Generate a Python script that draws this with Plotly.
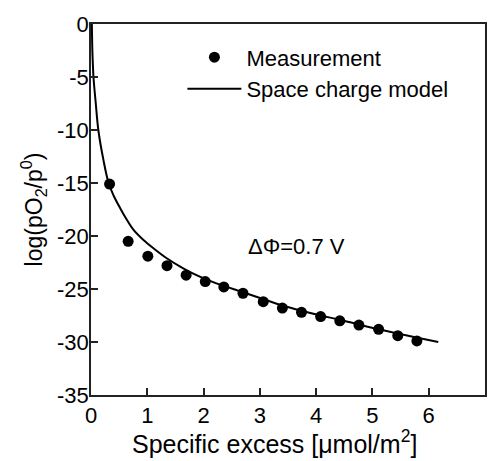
import plotly.graph_objects as go

meas_x = [0.33, 0.66, 1.01, 1.35, 1.69, 2.03, 2.36, 2.70, 3.06, 3.40, 3.74, 4.08, 4.42, 4.76, 5.11, 5.45, 5.79]
meas_y = [-15.1, -20.5, -21.9, -22.8, -23.7, -24.3, -24.8, -25.4, -26.2, -26.8, -27.2, -27.6, -28.0, -28.4, -28.8, -29.4, -29.9]

# Space charge model curve
model_x = [0.015, 0.026, 0.044, 0.085, 0.13, 0.22, 0.314, 0.403, 0.521, 0.639, 0.756, 0.932, 1.109, 1.345,
           1.638, 1.933, 2.228, 2.70, 3.06, 3.40, 3.74, 4.08, 4.42, 4.76, 5.11, 5.45, 5.80, 6.17]
model_y = [0.0, -2.8, -5.0, -7.5, -10.0, -12.8, -15.03, -16.2, -17.4, -18.49, -19.43, -20.38, -21.16, -22.1,
           -23.05, -23.84, -24.47, -25.3, -25.95, -26.55, -27.05, -27.5, -27.9, -28.35, -28.8, -29.2, -29.6, -30.0]

x_ticks = [0, 1, 2, 3, 4, 5, 6, 7]
y_ticks = [0, -5, -10, -15, -20, -25, -30, -35]

FONT = "Liberation Sans, Arial, sans-serif"

fig = go.Figure()
fig.add_trace(go.Scatter(x=meas_x, y=meas_y, mode="markers", name="Measurement",
                         marker=dict(color="black", size=11)))
fig.add_trace(go.Scatter(x=model_x, y=model_y, mode="lines", name="Space charge model",
                         line=dict(color="black", width=2, shape="spline", smoothing=1.0)))

axis_common = dict(showline=True, linecolor="#222", linewidth=1.5, mirror=True,
                   ticks="inside", ticklen=7, tickwidth=1.5, tickcolor="#222",
                   showgrid=False, zeroline=False,
                   tickfont=dict(family=FONT, size=22, color="black"))

fig.update_xaxes(range=[0, 7], tickvals=x_ticks, ticktext=[str(v) for v in x_ticks], **axis_common)
fig.update_yaxes(range=[-35, 0], tickvals=y_ticks, ticktext=[str(v) for v in y_ticks],
                 ticklabelstandoff=-4,
                 title=dict(text="log(pO<sub>2</sub>/p<sup>0</sup>)", font=dict(family=FONT, size=23, color="black"), standoff=8),
                 **axis_common)

# x-axis title (slightly left of centre in the reference)
fig.add_annotation(x=0.0985, y=-0.128, xref="paper", yref="paper",
                   text="Specific excess [μmol/m<sup>2</sup>]", showarrow=False,
                   xanchor="left", yanchor="middle", font=dict(family=FONT, size=25, color="black"))

fig.add_annotation(x=0.393, y=0.40, xref="paper", yref="paper", text="ΔΦ=0.7 V", showarrow=False,
                   xanchor="left", yanchor="middle", font=dict(family=FONT, size=22, color="black"))

fig.update_layout(
    width=491, height=461,
    margin=dict(l=91, r=4, t=24, b=66),
    paper_bgcolor="white", plot_bgcolor="white",
    font=dict(family=FONT, size=22, color="black"),
    showlegend=True,
    legend=dict(x=0.232, y=0.9665, xanchor="left", yanchor="top", bgcolor="rgba(0,0,0,0)",
                font=dict(family=FONT, size=22, color="black"), itemwidth=54),
)

fig.write_html("out.html")
